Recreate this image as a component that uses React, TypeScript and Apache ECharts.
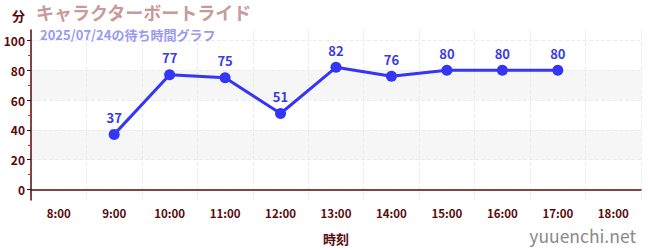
import React, { useEffect, useRef } from "react";
import * as echarts from "echarts";

const categories = ["8:00", "9:00", "10:00", "11:00", "12:00", "13:00", "14:00", "15:00", "16:00", "17:00", "18:00"];
const waitTimes: (number | null)[] = [null, 37, 77, 75, 51, 82, 76, 80, 80, 80, null];
const yTicks = [0, 20, 40, 60, 80, 100];
const yMinorTicks = [10, 30, 50, 70, 90];
const titleText = "キャラクターボートライド";
const subtitleText = "2025/07/24の待ち時間グラフ";
const yName = "分";
const xName = "時刻";
const watermark = "yuuenchi.net";

const FONT = "'Noto Sans CJK JP', 'Noto Sans', sans-serif";
const AXIS_COLOR = "#5a0a0a";
const LINE_COLOR = "#3535f5";

export default function App() {
  const ref = useRef<HTMLDivElement>(null);
  useEffect(() => {
    document.body.style.margin = "0";
    if (!ref.current) return;
    const chart = echarts.init(ref.current, null, { renderer: "svg" });
    chart.setOption({
      animation: false,
      textStyle: { fontFamily: FONT },
      title: [
        {
          text: titleText,
          left: 31,
          top: 0,
          padding: [3, 5, 0, 5],
          textStyle: { color: "#c99a9a", fontSize: 18, lineHeight: 18, fontWeight: "bold", fontFamily: FONT },
        },
        {
          text: subtitleText,
          left: 35,
          top: 25,
          padding: [2, 5, 0, 5],
          textStyle: { color: "#9a9af0", fontSize: 13, lineHeight: 14, fontWeight: "bold", fontFamily: FONT },
        },
      ],
      grid: { left: 31, right: 9, top: 30, bottom: 50, containLabel: false },
      xAxis: {
        type: "category",
        data: categories,
        boundaryGap: true,
        name: xName,
        nameLocation: "middle",
        nameGap: 32,
        nameTextStyle: { color: AXIS_COLOR, fontSize: 13, fontWeight: "bold", fontFamily: FONT },
        axisLine: { lineStyle: { color: AXIS_COLOR, width: 1.5 } },
        axisTick: { alignWithLabel: true, inside: true, length: 3, lineStyle: { color: "#888" } },
        axisLabel: { color: AXIS_COLOR, fontSize: 11.5, fontWeight: "bold", margin: 7, fontFamily: FONT },
        splitLine: { show: true, lineStyle: { color: "#ececec", type: "dashed" } },
      },
      yAxis: [
        {
          type: "value",
          min: -7,
          max: 107,
          name: yName,
          nameLocation: "end",
          nameGap: 8,
          nameTextStyle: { color: AXIS_COLOR, fontSize: 13, fontWeight: "bold", align: "right", padding: [0, 6, 0, 0], fontFamily: FONT },
          axisLine: { show: true, lineStyle: { color: AXIS_COLOR, width: 1.5 } },
          axisTick: { show: true, length: 4, customValues: yTicks, lineStyle: { color: "#222" } },
          axisLabel: { color: AXIS_COLOR, fontSize: 12, fontWeight: "bold", margin: 6, customValues: yTicks, fontFamily: FONT },
          splitLine: { show: true, lineStyle: { color: "#ececec", type: "dashed" } },
          splitArea: { show: true, areaStyle: { color: ["rgba(0,0,0,0)", "#f6f6f6"] } },
        },
        {
          type: "value",
          min: -7,
          max: 107,
          position: "left",
          axisLine: { show: false },
          axisTick: { show: true, length: 3, customValues: yMinorTicks, lineStyle: { color: "#e02020" } },
          axisLabel: { show: false },
          splitLine: { show: false },
          splitArea: { show: false },
        },
      ],
      series: [
        {
          type: "line",
          data: waitTimes,
          yAxisIndex: 0,
          symbol: "circle",
          symbolSize: 11,
          itemStyle: { color: LINE_COLOR },
          lineStyle: { color: LINE_COLOR, width: 3 },
          label: {
            show: true,
            position: "top",
            distance: 5,
            color: "#3a3ae8",
            fontSize: 13,
            fontWeight: "bold",
            fontFamily: FONT,
          },
        },
      ],
      graphic: [
        {
          type: "text",
          right: 14,
          bottom: 6,
          style: { text: watermark, fill: "#8a8a8a", fontSize: 17.5, fontFamily: FONT, fontWeight: "normal" },
        },
      ],
    });
    return () => chart.dispose();
  }, []);
  return <div ref={ref} style={{ width: 650, height: 250 }} />;
}
